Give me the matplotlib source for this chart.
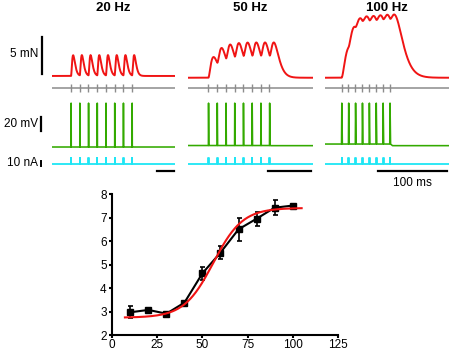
import numpy as np
import matplotlib.pyplot as plt

plt.rcParams['font.family'] = ['Liberation Sans', 'DejaVu Sans']

# --- stimulation protocols (top panels) ---
titles = ["20 Hz", "50 Hz", "100 Hz"]
freqs = [20, 50, 100]                 # Hz
n_pulses = 8
onsets = [111, 46, 24]                # ms, first stimulus in each window
windows = [707, 285, 180]             # ms shown in each column
twitch_tau = 6.0                      # ms
# force produced by each pulse (mN)
twitch_amps = [
    [2.8, 2.8, 2.8, 2.8, 2.8, 2.8, 2.8, 2.8],
    [2.8, 3.25, 3.5, 3.6, 3.63, 3.63, 3.63, 3.63],
    [4.2, 3.9, 3.7, 3.6, 3.7, 3.75, 3.75, 3.75],
]
force_base = [0.14, -0.1, -0.1]       # mN
v_pre = [-70.0, -67.8, -65.6]         # mV before / during train
v_post = [-70.0, -68.0, -68.0]        # mV after train
v_peak = -5.0                         # mV spike peak
i_amp = 12.0                          # nA current pulse

# --- force-frequency relation (bottom panel) ---
stim_freq = [10, 20, 30, 40, 50, 60, 70, 80, 90, 100]
force_mean = [2.98, 3.08, 2.92, 3.39, 4.64, 5.52, 6.51, 6.96, 7.43, 7.52]
force_sem = [0.26, 0.10, 0.08, 0.05, 0.27, 0.28, 0.50, 0.30, 0.32, 0.05]
fit_bottom, fit_top, fit_x50, fit_slope = 2.75, 7.42, 56.0, 8.1
fit_range = (7, 105)

W, H = 450, 351
fig = plt.figure(figsize=(W / 100, H / 100), dpi=100)


def px_axes(x0, y0, x1, y1):
    ax = fig.add_axes([x0 / W, 1 - y1 / H, (x1 - x0) / W, (y1 - y0) / H])
    ax.axis('off')
    return ax


def twitch(t):
    t = np.clip(t, 0, None)
    return (t / (2 * twitch_tau)) ** 2 * np.exp(2 - t / twitch_tau)


red = '#f01414'
gray = '#8c8c8c'
green = '#33aa00'
cyan = '#1ee6f5'

col_x = [(51.7, 175), (188.3, 312.7), (325, 449)]

for c in range(3):
    x0, x1 = col_x[c]
    dur = windows[c]
    stim = onsets[c] + np.arange(n_pulses) * 1000.0 / freqs[c]
    t = np.linspace(0, dur, 3000)

    # force
    axf = px_axes(x0, 8, x1, 82)
    f = force_base[c] + sum(a * twitch(t - s) for a, s in zip(twitch_amps[c], stim))
    axf.plot(t, f, color=red, lw=1.4)
    axf.set_xlim(0, dur)
    axf.set_ylim(-0.676, 9.324)

    # stimulus markers
    axs = px_axes(x0, 82, x1, 94)
    axs.plot([0, dur], [0, 0], color=gray, lw=1.1)
    axs.vlines(stim, -0.67, 0.67, color=gray, lw=1.0)
    axs.set_xlim(0, dur)
    axs.set_ylim(-1, 1)

    # membrane potential
    axv = px_axes(x0, 98, x1, 152)
    tv, vv = [0.0], [v_pre[c]]
    for s in stim:
        tv += [s, s + 0.4, s + 1.2]
        vv += [v_pre[c], v_peak, v_pre[c]]
    tv += [stim[-1] + 4, dur]
    vv += [v_post[c], v_post[c]]
    axv.plot(tv, vv, color=green, lw=1.15)
    axv.set_xlim(0, dur)
    axv.set_ylim(-77.4, 2.6)

    # injected current
    axi = px_axes(x0, 154, x1, 176)
    ti, ii = [0.0], [0.0]
    for s in stim:
        ti += [s, s, s + 1.0, s + 1.0]
        ii += [0, i_amp, i_amp, 0]
    ti += [dur]
    ii += [0]
    axi.plot(ti, ii, color=cyan, lw=1.3)
    axi.set_xlim(0, dur)
    axi.set_ylim(-24, 20)

    # 100 ms time bar
    axi.plot([dur - 103, dur - 3], [-13, -13], color='k', lw=1.6, clip_on=False)
    if c == 2:
        axi.text(dur - 53, -39, "100 ms", ha='center', va='center', fontsize=8.5)

    fig.text(((x0 + x1) / 2) / W, 1 - 8 / H, titles[c], ha='center', va='center',
             fontsize=9.5, fontweight='bold')

    if c == 0:
        # vertical scale bars
        axf.plot([-54, -54], [0.4, 5.4], color='k', lw=1.6, clip_on=False)
        axv.plot([-58.5, -58.5], [-45.6, -25.6], color='k', lw=1.6, clip_on=False)
        axi.plot([-61, -61], [-4, 6], color='k', lw=1.4, clip_on=False)

fig.text(38 / W, 1 - 54 / H, "5 mN", ha='right', va='center', fontsize=8.5)
fig.text(38 / W, 1 - 124 / H, "20 mV", ha='right', va='center', fontsize=8.5)
fig.text(38 / W, 1 - 163.5 / H, "10 nA", ha='right', va='center', fontsize=8.5)

# --- bottom graph ---
ax = fig.add_axes([112.3 / W, 1 - 335.3 / H, 225.4 / W, 141 / H])
ax.errorbar(stim_freq, force_mean, yerr=force_sem, color='k', marker='s', ms=4.5,
            lw=1.5, elinewidth=1.2, capsize=1.8, capthick=1.2, zorder=2)
xs = np.linspace(fit_range[0], fit_range[1], 300)
ys = fit_bottom + (fit_top - fit_bottom) / (1 + np.exp((fit_x50 - xs) / fit_slope))
ax.plot(xs, ys, color=red, lw=1.5, zorder=3)
ax.set_xlim(0, 125)
ax.set_ylim(2, 8)
ax.set_xticks([0, 25, 50, 75, 100, 125])
ax.set_yticks([2, 3, 4, 5, 6, 7, 8])
for side in ['top', 'right']:
    ax.spines[side].set_visible(False)
for side in ['left', 'bottom']:
    ax.spines[side].set_linewidth(1.5)
ax.tick_params(direction='out', length=2.5, width=1.5, labelsize=8.5, pad=1.5)
ax.tick_params(axis='x', pad=0.3)

fig.savefig("out.png", dpi=100)
